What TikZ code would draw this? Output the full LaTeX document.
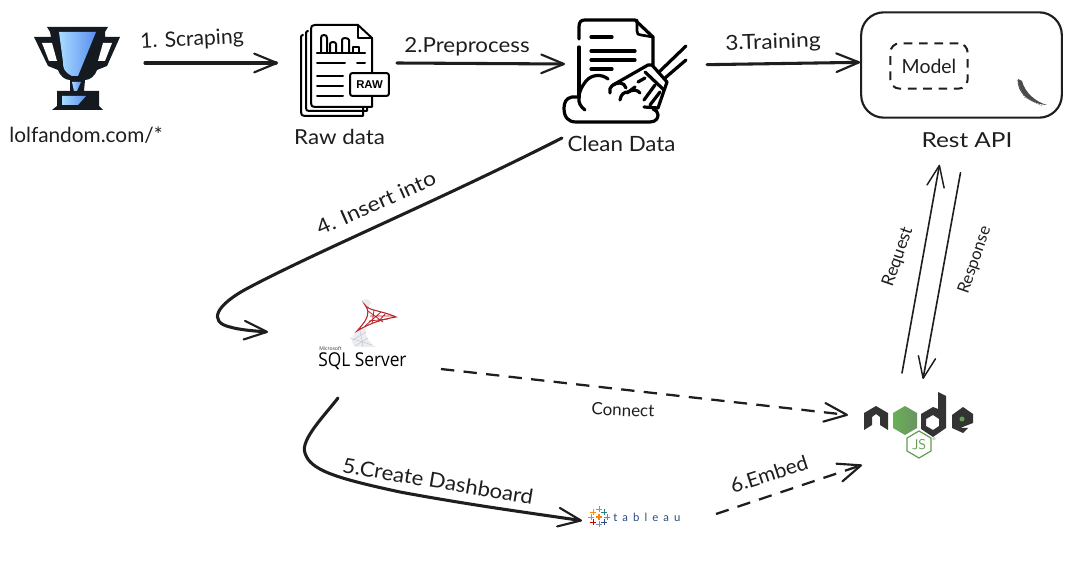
\documentclass[tikz,border=0pt]{standalone}
\usepackage{fontspec}
\setmainfont{Lato}
\newfontfamily\sqlfont{Open Sans}
\newfontfamily\tabfont[LetterSpace=45]{Lato}
\newfontfamily\rawfont{Liberation Sans}
\usetikzlibrary{arrows.meta,calc,shapes.geometric}
\definecolor{ink}{HTML}{1E1E1E}
\definecolor{troph}{HTML}{141A1F}
\definecolor{cupl}{HTML}{A8DCFF}
\definecolor{cupr}{HTML}{5B8DEF}
\definecolor{nodegreen}{HTML}{5FA04E}
\definecolor{nodedark}{HTML}{333333}
\definecolor{sqlred}{HTML}{B9272D}
\definecolor{sqlgray}{HTML}{C8CDD3}
\definecolor{tabnavy}{HTML}{2B4A7F}
\tikzset{
  x=0.75pt,y=-0.75pt,
  hold/.style 2 args={inner sep=0pt,outer sep=0pt,minimum width=0.75pt*#1,minimum height=0.75pt*#2},
  lab/.style={text=ink,font=\fontsize{#1}{#1}\selectfont,inner sep=0pt},
  barb/.style={-{Straight Barb[length=17pt,width=14pt,line width=1.6pt,round]}},
  thinbarb/.style={-{Straight Barb[length=16pt,width=13pt,line width=1.1pt,round]}},
  flow/.style={draw=ink,line width=2.3pt,barb,line cap=round},
  curveflow/.style={draw=ink,line width=2.3pt,barb,line cap=round},
  dashflow/.style={draw=ink,line width=1.7pt,dash pattern=on 10pt off 7pt,barb},
  thinflow/.style={draw=ink,line width=1.2pt,thinbarb,line cap=round},
  icon/.style={draw=black,line width=1.5pt,line cap=round,line join=round,fill=none},
  iconb/.style={draw=black,line width=2.4pt,line cap=round,line join=round},
  mesh/.style={draw=sqlred,line width=0.6pt},
  gmesh/.style={draw=sqlgray,line width=0.45pt},
  plusmark/.style={line width=0.65pt},
}
\newcommand{\tabplus}[3]{\draw[plusmark,#3] (#1-3,#2)--(#1+3,#2) (#1,#2-3)--(#1,#2+3);}
\begin{document}
\begin{tikzpicture}
\useasboundingbox (0,0) rectangle (1072,573);
\fill[white] (0,0) rectangle (1072,573);

% holder nodes, sized to the reach of the connectors
\node[hold={126}{100}] (trophy) at (82,63) {};
\node[hold={119}{100}] (raw) at (337.5,63) {};
\node[hold={142}{148}] (clean) at (636,64) {};
\node[draw=ink,line width=1.6pt,rounded corners=17pt,minimum width=150.5pt,minimum height=79pt,inner sep=0pt] (api) at (961.5,65) {};
\node[hold={173}{66}] (sql) at (354.5,365) {};
\node[hold={134}{30}] (tableau) at (649,518) {};
\node[hold={142}{92}] (nodejs) at (919,419) {};

% trophy
\fill[troph] (47,27)--(108,27)--(105,32)--(105,37)--(120,37)--(107,66)--(97,70)
  .. controls (95,76) and (90,80) .. (85,80) --(84,91)--(99,91)--(99,106)--(103,110)--(52,110)--(57,106)--(57,91)--(70,91)--(70,80)
  .. controls (65,80) and (60,76) .. (58,70) --(48,66)--(34,37)--(51,37)--(50,32)--cycle;
\fill[white] (42,43)--(52,43)--(57,61)--(49,61)--cycle;
\fill[white] (112,43)--(103,43)--(98,61)--(105,61)--cycle;
\shade[left color=cupl,right color=cupr] (59,32)--(96,32)--(78,76)--(72,76) .. controls (64,72) and (63,68) .. (63,62) --cycle;
\shade[left color=cupl,right color=cupr] (72,82)--(81,82)--(77,91)--(74,91)--cycle;
\shade[left color=cupl,right color=cupr] (62,96)--(86,96)--(78,105)--(62,105)--cycle;

% raw data
\draw[icon] (363,107)--(363,116) -- (305,116) .. controls (302,116) and (301,115) .. (301,112) -- (301,37) .. controls (301,36) and (302,35) .. (303,35);
\draw[icon] (367,107)--(367,111) -- (309,111) .. controls (307,111) and (306,110) .. (306,108) -- (306,33) .. controls (306,32) and (307,31) .. (308,31);
\draw[icon] (372,73)--(372,38)--(358,25)--(315,25) .. controls (312,25) and (311,26) .. (311,29) -- (311,103) .. controls (311,106) and (312,107) .. (315,107) -- (372,107)--(372,96);
\draw[icon] (358,25)--(358,38)--(372,38);
\draw[icon] (321,53)--(321,38) .. controls (321,36) and (322,35) .. (324,35) .. controls (326,35) and (327,36) .. (327,38) -- (327,53);
\draw[icon] (330,53)--(330,44) .. controls (330,43) and (331,42) .. (333,42) .. controls (335,42) and (336,43) .. (336,44) -- (336,53);
\draw[icon] (342,53)--(342,40) .. controls (342,39) and (343,38) .. (345,38) .. controls (347,38) and (349,39) .. (349,40) -- (349,53);
\draw[icon] (353,53)--(353,47)--(359,47)--(359,53);
\draw[icon,line width=1.7pt] (317,53)--(365,53);
\draw[icon] (317,63)--(345,63) (357,63)--(365,63) (317,76)--(343,76) (317,86)--(343,86) (317,96)--(343,96);
\node[draw=black,line width=1.5pt,fill=white,rounded corners=1.5pt,minimum width=29pt,minimum height=17pt,inner sep=0pt,font=\rawfont\bfseries\fontsize{8.5}{9}\selectfont] (rawtag) at (369.5,84.5) {RAW};

% clean data: document, cloud, broom
\draw[iconb] (579,97)--(579,47);
\draw[iconb] (579,39) -- (579,27) .. controls (579,22) and (581,20) .. (585,20) -- (635,20) -- (653,37) -- (653,65);
\draw[iconb,line width=2pt] (637,20)--(637,31) .. controls (637,34) and (638,35) .. (641,35) -- (653,37);
\draw[iconb] (591,37)--(612,37) (591,51)--(635,51) (591,60)--(635,60) (591,69)--(612,69);
\draw[iconb] (608,79) .. controls (602,74) and (592,74) .. (586,81) .. controls (582,86) and (579,92) .. (579,97)
  -- (572,97) .. controls (566,98) and (564,103) .. (564,108) .. controls (564,117) and (568,122) .. (576,122) -- (650,122) .. controls (656,122) and (658,118) .. (658,115) .. controls (658,112) and (656,110) .. (653,109);
\draw[iconb] (579,97) .. controls (578,103) and (581,107) .. (585,110);
\fill[white] (613,85)--(648,65)--(652,65)--(667,82)--(658,108)--(644,107)--(640,93)--(626,88)--cycle;
\draw[iconb] (610,93) .. controls (608,87) and (614,83) .. (620,83) .. controls (623,83) and (625,85) .. (626,88);
\draw[iconb] (620,100) .. controls (621,94) and (624,92) .. (628,92) .. controls (633,89) and (638,90) .. (640,93);
\draw[iconb] (613,85)--(648,65)--(652,65)--(667,82)--(658,108)--(644,107);
\draw[iconb] (645,72)--(664,90);
\draw[iconb] (659,72)--(686,46) (665,78)--(686,60);
\draw[iconb] (638,82)--(645,78) (627,93)--(635,87) (644,100)--(655,85) (650,105)--(660,92);

% API contents
\node[draw=ink,line width=1.5pt,dash pattern=on 6.5pt off 5pt,rounded corners=7pt,minimum width=58pt,minimum height=34pt,inner sep=0pt,lab=14.6] (model) at (929,66) {Model};
\fill[ink!80] (1018,79) .. controls (1016,93) and (1030,104) .. (1047,105) .. controls (1036,102) and (1025,93) .. (1022,81) --cycle;
\draw[ink!60,line width=0.4pt,dash pattern=on 1pt off 1pt] (1017,80)--(1024,97)--(1042,106);

% SQL Server
\fill[sqlgray!40] (361,301) .. controls (366,298) and (370,299) .. (371,303) -- (368,308)--(365,305)--cycle;
\fill[sqlgray!35] (357,331) .. controls (350,338) and (351,345) .. (356,347) -- (376,347) .. controls (368,342) and (364,335) .. (366,326) --cycle;
\draw[gmesh] (353,340)--(366,332) (355,346)--(368,338) (360,330)--(363,347) (350,338)--(372,345);
\draw[sqlred,line width=0.8pt] (365,305) .. controls (369,311) and (380,310) .. (396,317) .. controls (384,319) and (372,322) .. (357,331) .. controls (365,322) and (372,314) .. (365,305) --cycle;
\draw[mesh] (368,311)--(383,322) (374,310)--(372,324) (381,312)--(365,326) (370,316)--(394,316) (369,321)--(388,319) (386,313)--(378,322);
\node[inner sep=0pt,font=\sqlfont\fontsize{3.8}{4}\selectfont,text=nodedark,anchor=west] (mslogo) at (319,349) {Microsoft};
\node[inner sep=0pt,font=\sqlfont\fontsize{13}{13}\selectfont,text=black,anchor=west,yscale=1.1] (sqltext) at (318,361.5) {SQL Server};

% tableau
\tabplus{599}{517}{orange,line width=1pt}
\tabplus{593}{512}{orange!90!yellow}
\tabplus{599}{509}{gray!60!cyan}
\tabplus{604}{512}{teal!70!gray}
\tabplus{591}{517}{cyan!40!gray}
\tabplus{607}{517}{tabnavy!70}
\tabplus{593}{522}{red!80!black}
\tabplus{599}{524}{tabnavy!60}
\tabplus{604}{522}{tabnavy}
\node[inner sep=0pt,anchor=west,text=tabnavy,font=\tabfont\fontsize{8.5}{8.5}\selectfont] (tabtext) at (613,517.5) {tableau};

% node.js logo
\fill[nodedark] (864,413)--(876,406)--(888,413)--(888,430)--(880,425)--(880,417)--(876,414)--(872,417)--(872,425)--(864,430)--cycle;
\shade[left color=nodegreen!110!black,right color=nodegreen!60!gray] (905,406)--(917,413)--(917,428)--(905,435)--(893,428)--(893,413)--cycle;
\fill[nodedark,even odd rule] (938,392)--(946,396)--(946,428)--(933,437)--(921,429)--(921,414)--(933,407)--(938,409)--cycle
  (933,415)--(926,419)--(926,426)--(933,430)--(939,426)--(939,419)--cycle;
\fill[nodedark] (952,415)--(963,407)--(973,414)--(973,423)--(960,428)--(968,428)--(963,433)--(952,428)--cycle;
\fill[nodegreen] (962,419) circle (2.5);
\draw[nodegreen,line width=0.9pt,line join=round] (919,431)--(931,438)--(931,451)--(919,458)--(907,451)--(907,438)--cycle;
\node[inner sep=0pt,text=nodegreen,font=\sffamily\fontsize{10.5}{11}\selectfont] (jsmark) at (919,445) {JS};
\node[inner sep=0pt,text=nodegreen,font=\fontsize{3}{3}\selectfont] (regmark) at (934,439) {®};

% labels
\node[lab=15.6] (l0) at (86,135.5) {lolfandom.com/*};
\node[lab=15.5,xscale=1.08] (l1) at (339.5,137) {Raw data};
\node[lab=15.8,xscale=1.06] (l2) at (621.5,144) {Clean Data};
\node[lab=15.5,xscale=1.18] (l3) at (967,140) {Rest API};
\node[lab=15.8,rotate=3] (t1) at (192,40) {1. Scraping};
\node[lab=15.5,xscale=1.08] (t2) at (467,47) {2.Preprocess};
\node[lab=15.5,rotate=2,xscale=1.1] (t3) at (773,43) {3.Training};
\node[lab=15.5,rotate=24,xscale=1.1] (t4) at (376,203) {4. Insert into};
\node[lab=15.5,rotate=-9.5,xscale=1.07] (t5) at (438,481) {5.Create Dashboard};
\node[lab=15.2,rotate=18,xscale=1.03] (t6) at (769,474) {6.Embed};
\node[lab=12.7,rotate=-2] (tc) at (623,410) {Connect};
\node[lab=13,rotate=71] (treq) at (898,257) {Request};
\node[lab=12.5,rotate=71] (tres) at (975,260) {Response};

% connectors
\draw[flow] (trophy.east) -- (raw.west);
\draw[flow] (raw.east) -- (clean.west);
\draw[flow] ([yshift=-0.5pt]clean.east) -- ([yshift=2pt]api.west);
\draw[curveflow] ([shift={(-3,0)}]clean.south west) .. controls (440,200) and (320,250) .. (250,287) .. controls (215,305) and (208,322) .. (230,327) .. controls (240,330) and (255,331) .. (sql.north west);
\draw[curveflow] ([shift={(70,0)}]sql.south west) .. controls (325,415) and (300,440) .. (305,453) .. controls (310,470) and (335,478) .. (400,492) .. controls (470,505) and (530,513) .. ([yshift=-2pt]tableau.west);
\draw[dashflow] ([yshift=-3pt]sql.east) -- ([yshift=3pt]nodejs.west);
\draw[dashflow] ([yshift=3pt]tableau.east) -- ([shift={(14,0)}]nodejs.south west);
\draw[thinflow] ([shift={(-17,0)}]nodejs.north) -- ([shift={(-22,46)}]api.south);
\draw[thinflow] ([shift={(-1,54)}]api.south) -- ([shift={(4,6)}]nodejs.north);
\end{tikzpicture}
\end{document}
